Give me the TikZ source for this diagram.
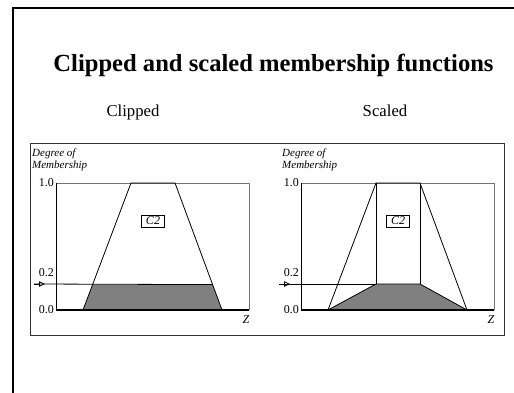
\documentclass[tikz,border=0pt]{standalone}
\usepackage{fontspec}
\setmainfont{Liberation Serif}
\usetikzlibrary{arrows.meta,calc}
\tikzstyle{frameline} = [draw=black, line width=2pt]
\tikzstyle{boxline} = [draw=black!80, line width=0.9pt]
\tikzstyle{axisline} = [draw=black, line width=0.9pt]
\tikzstyle{edgeline} = [draw=black!55, line width=0.9pt]
\tikzstyle{zeroline} = [draw=black, line width=1.8pt]
\tikzstyle{mfline} = [draw=black, line width=0.8pt]
\tikzstyle{cutfill} = [fill=gray, draw=black, line width=0.8pt, line join=round]
\tikzstyle{ticklabel} = [font=\fontsize{12}{12}\selectfont, anchor=east, inner sep=1pt]
\tikzstyle{axisname} = [font=\itshape\fontsize{11}{11}\selectfont, anchor=base west, inner sep=0pt]
\tikzstyle{namebox} = [draw=black, font=\itshape\fontsize{12}{12}\selectfont, inner sep=2pt, minimum width=23pt]
\tikzstyle{panelhead} = [font=\fontsize{16.7}{16.7}\selectfont, anchor=base]

\begin{document}
\begin{tikzpicture}[x=1pt,y=-1pt]
\useasboundingbox (0,0) rectangle (514,393);
% slide frame
\draw[frameline] (514,8) -- (13,8) -- (13,393);
\node[font=\bfseries\fontsize{24.6}{24.6}\selectfont, anchor=base] (title) at (273.5,72)
    {Clipped and scaled membership functions};
\node[panelhead] (cliphead) at (133,117) {Clipped};
\node[panelhead] (scalehead) at (385,117) {Scaled};
\draw[boxline] (30,143) rectangle (504,335);

% clipped
\begin{scope}
\coordinate (cO) at (56,310);
\coordinate (cT) at (56,183);
\coordinate (cR) at (249,310);
\coordinate (cTR) at (249,183);
\coordinate (cA) at (83,310);
\coordinate (cB) at (131,183);
\coordinate (cC) at (175,183);
\coordinate (cD) at (222,310);
\coordinate (cP) at ($(cA)!0.2!(cB)$);
\coordinate (cQ) at ($(cD)!0.2!(cC)$);
\coordinate (cIn) at (34,284);
\coordinate (cTip) at (45,284);
\fill[gray] (cA) -- (cP) -- (cQ) -- (cD) -- cycle;
\draw[edgeline] (cT) -- (cTR) -- (cR);
\draw[mfline] (cA) -- (cB) -- (cC) -- (cD);
\draw[mfline] (cIn) -- (cQ);
\draw[mfline, -{Triangle[open, length=6pt, width=5.5pt]}] (cIn) -- (cTip);
\draw[zeroline] (cO) -- (cR);
\draw[axisline] (cT) -- (cO);
\node[ticklabel] (c10) at (55,183) {1.0};
\node[ticklabel] (c02) at (55,273) {0.2};
\node[ticklabel] (c00) at (55,310) {0.0};
\node[axisname] (cdeg) at (32,157) {Degree of};
\node[axisname] (cmem) at (32,168) {Membership};
\node[font=\itshape\fontsize{12}{12}\selectfont, anchor=base] (cz) at (246,323) {Z};
\node[namebox] (cname) at (153,221) {C2};
\end{scope}

% scaled
\begin{scope}[shift={(245,0)}]
\coordinate (sO) at (56,310);
\coordinate (sT) at (56,183);
\coordinate (sR) at (249,310);
\coordinate (sTR) at (249,183);
\coordinate (sA) at (83,310);
\coordinate (sB) at (131,183);
\coordinate (sC) at (175,183);
\coordinate (sD) at (222,310);
\coordinate (sP) at (131,284);
\coordinate (sQ) at (175,284);
\coordinate (sIn) at (34,284);
\coordinate (sTip) at (45,284);
\draw[cutfill] (sA) -- (sP) -- (sQ) -- (sD) -- cycle;
\draw[edgeline] (sT) -- (sTR) -- (sR);
\draw[mfline] (sA) -- (sB) -- (sC) -- (sD);
\draw[mfline] (sB) -- (sP);
\draw[mfline] (sC) -- (sQ);
\draw[mfline] (sIn) -- (sP);
\draw[mfline, -{Triangle[open, length=6pt, width=5.5pt]}] (sIn) -- (sTip);
\draw[zeroline] (sO) -- (sR);
\draw[axisline] (sT) -- (sO);
\node[ticklabel] (s10) at (55,183) {1.0};
\node[ticklabel] (s02) at (55,273) {0.2};
\node[ticklabel] (s00) at (55,310) {0.0};
\node[axisname] (sdeg) at (37,157) {Degree of};
\node[axisname] (smem) at (37,168) {Membership};
\node[font=\itshape\fontsize{12}{12}\selectfont, anchor=base] (sz) at (246,323) {Z};
\node[namebox] (sname) at (153,221) {C2};
\end{scope}
\end{tikzpicture}
\end{document}
